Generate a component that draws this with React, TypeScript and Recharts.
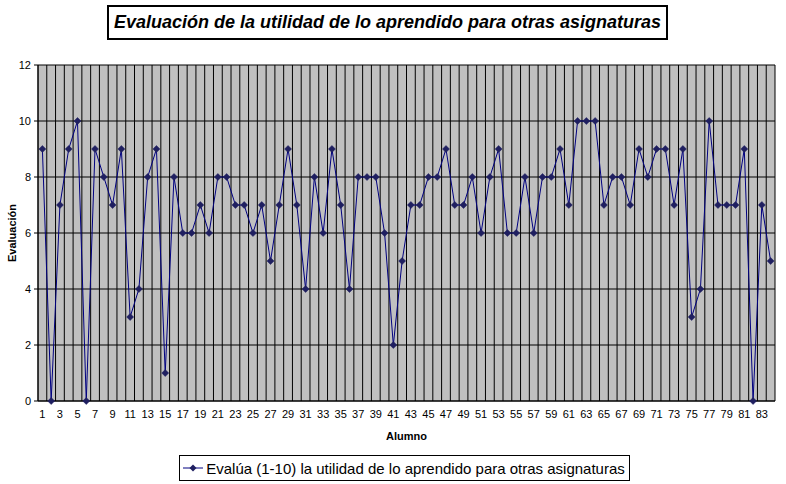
import { LineChart, Line, XAxis, YAxis, CartesianGrid, Legend } from "recharts";

const FONT = "Arial, 'Liberation Sans', sans-serif";

const alumnos = Array.from({ length: 84 }, (_, i) => i + 1);
const evaluacion = [
  9, 0, 7, 9, 10, 0, 9, 8, 7, 9, 3, 4, 8, 9, 1, 8, 6, 6, 7, 6,
  8, 8, 7, 7, 6, 7, 5, 7, 9, 7, 4, 8, 6, 9, 7, 4, 8, 8, 8, 6,
  2, 5, 7, 7, 8, 8, 9, 7, 7, 8, 6, 8, 9, 6, 6, 8, 6, 8, 8, 9,
  7, 10, 10, 10, 7, 8, 8, 7, 9, 8, 9, 9, 7, 9, 3, 4, 10, 7, 7, 7,
  9, 0, 7, 5,
];
const xTicks = alumnos.filter((n) => n % 2 === 1);
const yTicks = [0, 2, 4, 6, 8, 10, 12];
const xDomain: [number, number] = [0.5, 84.5];
const boundaries = Array.from({ length: 85 }, (_, i) => i + 0.5);
const seriesName = "Evalúa (1-10) la utilidad de lo aprendido para otras asignaturas";

const data = alumnos.map((a, i) => ({ alumno: a, valor: evaluacion[i] }));

const LINE = "#000080";

function Diamond(props: any) {
  const { cx, cy } = props;
  if (cx == null || cy == null) return null;
  const r = 3.5;
  return (
    <polygon
      points={`${cx},${cy - r} ${cx + r},${cy} ${cx},${cy + r} ${cx - r},${cy}`}
      fill="#1f1f60"
      stroke="#1f1f60"
      strokeWidth={0.5}
    />
  );
}

// vertical grid lines sit on category boundaries, like Excel
function boundaryLines({ xAxis, offset }: any) {
  const sc = xAxis && xAxis.scale;
  return boundaries.map((b) => {
    if (typeof sc === "function") return sc(b);
    if (sc && typeof sc.map === "function") return sc.map(b);
    return offset.left + ((b - xDomain[0]) / (xDomain[1] - xDomain[0])) * offset.width;
  });
}

function LegendBox() {
  return (
    <div style={{ display: "flex", justifyContent: "center", paddingLeft: 34 }}>
      <div
        style={{
          border: "1px solid #000",
          padding: "2px 4px 2px 3px",
          display: "flex",
          alignItems: "center",
          fontFamily: FONT,
          fontSize: 15,
          background: "#fff",
          height: 20,
        }}
      >
        <svg width={20} height={10} style={{ marginRight: 3 }}>
          <line x1={0} y1={5} x2={20} y2={5} stroke={LINE} strokeWidth={1} />
          <polygon points="10,1.5 13.5,5 10,8.5 6.5,5" fill="#1f1f60" />
        </svg>
        <span>{seriesName}</span>
      </div>
    </div>
  );
}

export default function App() {
  return (
    <div style={{ position: "absolute", left: 0, top: 0, width: 786, height: 484, background: "#fff" }}>
      <div
        style={{
          position: "absolute",
          left: 107,
          top: 5,
          width: 557,
          height: 31,
          border: "2px solid #000",
          fontFamily: FONT,
          fontWeight: "bold",
          fontStyle: "italic",
          fontSize: 18,
          lineHeight: "31px",
          textAlign: "center",
          zIndex: 1,
        }}
      >
        Evaluación de la utilidad de lo aprendido para otras asignaturas
      </div>
      <LineChart
        width={786}
        height={484}
        data={data}
        margin={{ top: 65, right: 11, left: 0, bottom: 0 }}
        style={{ fontFamily: FONT }}
      >
        <CartesianGrid
          xAxisId="grid"
          stroke="#000"
          fill="#c0c0c0"
          fillOpacity={1}
          verticalCoordinatesGenerator={boundaryLines}
        />
        <XAxis
          xAxisId="grid"
          dataKey="alumno"
          type="number"
          domain={xDomain}
          ticks={boundaries}
          tick={false}
          tickSize={4}
          height={5}
          axisLine={{ stroke: "#000" }}
          tickLine={{ stroke: "#000" }}
        />
        <XAxis
          xAxisId="main"
          dataKey="alumno"
          type="number"
          domain={xDomain}
          ticks={xTicks}
          interval={0}
          axisLine={false}
          tickLine={false}
          tickSize={0}
          tickMargin={4}
          height={42}
          tick={{ fill: "#000", fontSize: 11 }}
          label={{
            value: "Alumno",
            position: "insideBottom",
            offset: 8,
            style: { fontWeight: "bold", fontSize: 11, fill: "#000" },
          }}
        />
        <YAxis
          domain={[0, 12]}
          ticks={yTicks}
          width={38}
          tickSize={4}
          tickMargin={3}
          axisLine={{ stroke: "#000" }}
          tickLine={{ stroke: "#000" }}
          tick={{ fill: "#000", fontSize: 11 }}
          label={{
            value: "Evaluación",
            angle: -90,
            position: "insideLeft",
            offset: 12,
            style: { fontWeight: "bold", fontSize: 11, fill: "#000", textAnchor: "middle" },
          }}
        />
        <Legend
          verticalAlign="bottom"
          height={36}
          wrapperStyle={{ top: 455, bottom: "auto" }}
          content={() => <LegendBox />}
        />
        <Line
          xAxisId="main"
          type="linear"
          dataKey="valor"
          name={seriesName}
          stroke={LINE}
          strokeWidth={1}
          dot={<Diamond />}
          activeDot={false}
          isAnimationActive={false}
        />
      </LineChart>
    </div>
  );
}
